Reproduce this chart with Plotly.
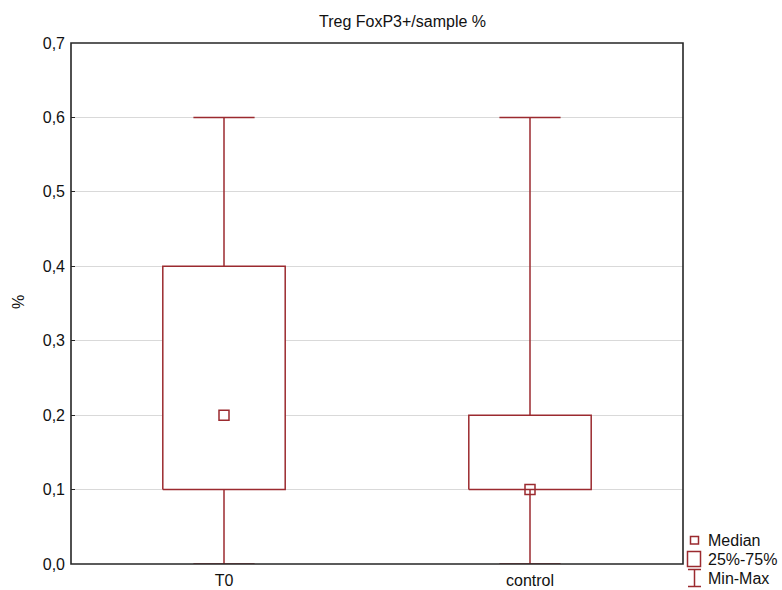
import plotly.graph_objects as go

# Summary statistics per group
categories = ["T0", "control"]
mins = [0.0, 0.0]
q1 = [0.1, 0.1]
medians = [0.2, 0.1]
q3 = [0.4, 0.2]
maxs = [0.6, 0.6]
y_ticks = [0.0, 0.1, 0.2, 0.3, 0.4, 0.5, 0.6, 0.7]

RED = "#9b2a2f"
FRAME = "#262626"
FONT = "Liberation Sans, Arial"
BOX_HALF = 0.2
CAP_HALF = 0.1

fig = go.Figure()

for i, cat in enumerate(categories):
    # whiskers with caps
    wx = [i, i, None, i, i, None,
          i - CAP_HALF, i + CAP_HALF, None, i - CAP_HALF, i + CAP_HALF]
    wy = [q3[i], maxs[i], None, mins[i], q1[i], None,
          maxs[i], maxs[i], None, mins[i], mins[i]]
    fig.add_trace(go.Scatter(x=wx, y=wy, mode="lines",
                             line=dict(color=RED, width=1.5),
                             hoverinfo="skip", showlegend=False))
    # interquartile box
    bx = [i - BOX_HALF, i + BOX_HALF, i + BOX_HALF, i - BOX_HALF, i - BOX_HALF]
    by = [q1[i], q1[i], q3[i], q3[i], q1[i]]
    fig.add_trace(go.Scatter(x=bx, y=by, mode="lines", fill="toself",
                             fillcolor="white",
                             line=dict(color=RED, width=1.5),
                             hoverinfo="skip", showlegend=False))

# medians
fig.add_trace(go.Scatter(x=list(range(len(categories))), y=medians, mode="markers",
                         marker=dict(symbol="square-open", size=10,
                                     color=RED, line=dict(color=RED, width=1.5)),
                         showlegend=False))

# plot area in pixels: left 71, right 683, top 43, bottom 564
def px(x):
    return (x - 71) / 612.0

def py(y):
    return (564 - y) / 521.0

shapes = []
# frame around the plot area, drawn above the data
shapes.append(dict(type="rect", xref="paper", yref="paper", layer="above",
                   x0=0, x1=1, y0=0, y1=1, line=dict(color=FRAME, width=1.6)))
# legend: median marker
shapes.append(dict(type="rect", xref="paper", yref="paper",
                   x0=px(690.5), x1=px(698.5), y0=py(544), y1=py(536.5),
                   line=dict(color=RED, width=1.5)))
# legend: box
shapes.append(dict(type="rect", xref="paper", yref="paper",
                   x0=px(687.5), x1=px(700.5), y0=py(566.5), y1=py(551.5),
                   line=dict(color=RED, width=1.5)))
# legend: min-max bar
for (x0, y0, x1, y1) in [(688, 569.5, 701, 569.5), (688, 586.5, 701, 586.5),
                         (694.5, 569.5, 694.5, 586.5)]:
    shapes.append(dict(type="line", xref="paper", yref="paper",
                       x0=px(x0), x1=px(x1), y0=py(y0), y1=py(y1),
                       line=dict(color=RED, width=1.5)))

annotations = []
for label, yc in [("Median", 540), ("25%-75%", 559), ("Min-Max", 578)]:
    annotations.append(dict(text=label, xref="paper", yref="paper",
                            x=px(706), y=py(yc), xanchor="left", yanchor="middle",
                            showarrow=False,
                            font=dict(family=FONT, size=16, color="#111")))
annotations.append(dict(text="Treg FoxP3+/sample %", xref="paper", yref="paper",
                        x=px(402), y=py(22), xanchor="center", yanchor="middle",
                        showarrow=False,
                        font=dict(family=FONT, size=16, color="#111")))
annotations.append(dict(text="%", xref="paper", yref="paper",
                        x=px(18), y=py(302), xanchor="center", yanchor="middle",
                        textangle=-90, showarrow=False,
                        font=dict(family=FONT, size=16, color="#111")))

fig.update_layout(
    width=782, height=590,
    margin=dict(l=71, r=99, t=43, b=26, autoexpand=False),
    paper_bgcolor="white", plot_bgcolor="white",
    separators=", ",
    shapes=shapes,
    annotations=annotations,
    font=dict(family=FONT, size=16, color="#111"),
    xaxis=dict(range=[-0.5, 1.5], tickmode="array",
               tickvals=list(range(len(categories))), ticktext=categories,
               showgrid=False, zeroline=False, showline=False,
               ticks="", ticklabelstandoff=5, automargin=False,
               tickfont=dict(size=16)),
    yaxis=dict(range=[0, 0.7], tickmode="array", tickvals=y_ticks,
               tickformat=".1f", showgrid=True, gridcolor="#d9d9d9", gridwidth=1,
               zeroline=False, showline=False,
               ticks="inside", ticklen=4, tickcolor=FRAME, tickwidth=1,
               ticklabelstandoff=5, automargin=False,
               tickfont=dict(size=16)),
)

fig.write_html("out.html")
